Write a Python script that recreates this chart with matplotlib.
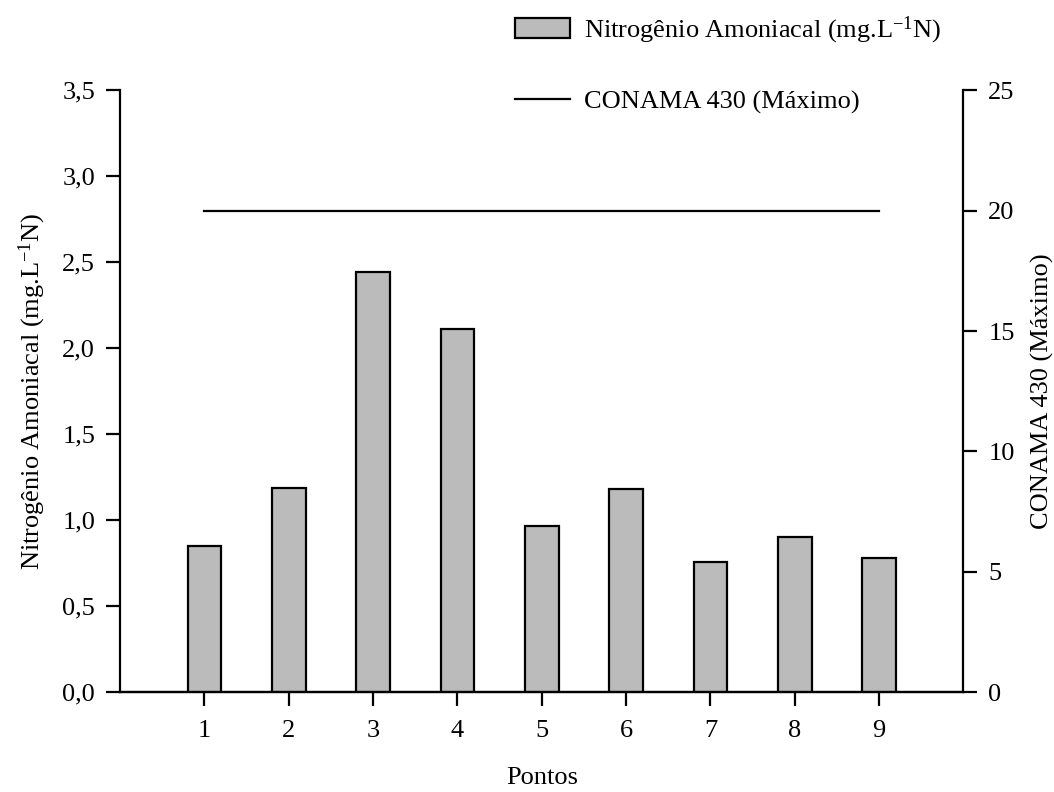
import matplotlib
matplotlib.use("Agg")
import matplotlib.pyplot as plt
from matplotlib.ticker import FuncFormatter

plt.rcParams['font.family'] = ['Liberation Serif', 'DejaVu Serif']
plt.rcParams['mathtext.fontset'] = 'custom'
plt.rcParams['mathtext.rm'] = 'Liberation Serif'
plt.rcParams['mathtext.it'] = 'Liberation Serif:italic'
plt.rcParams['mathtext.bf'] = 'Liberation Serif:bold'

# dados
pontos = [1, 2, 3, 4, 5, 6, 7, 8, 9]
nitrogenio = [0.853, 1.189, 2.446, 2.112, 0.966, 1.179, 0.760, 0.900, 0.780]
conama_x = [1, 9]
conama_max = [20, 20]

fig = plt.figure(figsize=(10.54, 7.92), dpi=100)
ax = fig.add_axes([0.114, 0.126, 0.800, 0.760])
ax2 = ax.twinx()

barras = ax.bar(pontos, nitrogenio, width=0.40, color='#bbbbbb',
                edgecolor='black', linewidth=1.6, zorder=3)
linha, = ax2.plot(conama_x, conama_max, color='black', linewidth=1.6)

ax.set_xlim(0, 10)
ax.set_ylim(0, 3.5)
ax2.set_ylim(0, 25)
ax.set_xticks(pontos)
ax.set_yticks([0, 0.5, 1.0, 1.5, 2.0, 2.5, 3.0, 3.5])
ax2.set_yticks([0, 5, 10, 15, 20, 25])
ax.yaxis.set_major_formatter(FuncFormatter(lambda v, p: f'{v:.1f}'.replace('.', ',')))

fs = 19
for a in (ax, ax2):
    a.spines['top'].set_visible(False)
    for s in a.spines.values():
        s.set_linewidth(1.6)
    a.tick_params(direction='out', length=10, width=1.6, labelsize=fs, pad=8)
ax2.spines['left'].set_visible(False)
ax.spines['right'].set_visible(False)
ax.tick_params(axis='x', pad=10)

ax.set_xlabel('Pontos', fontsize=fs, labelpad=18)
ax.set_ylabel('Nitrogênio Amoniacal (mg.L$^{-1}$N)', fontsize=fs, labelpad=10)
ax2.set_ylabel('CONAMA 430 (Máximo)', fontsize=fs, rotation=90, labelpad=12)

fig.legend([barras, linha],
           ['Nitrogênio Amoniacal (mg.L$^{-1}$N)', 'CONAMA 430 (Máximo)'],
           loc='upper left', bbox_to_anchor=(0.466, 1.012), frameon=False,
           fontsize=fs, handlelength=2.1, handleheight=0.8,
           labelspacing=1.65, handletextpad=0.5)

fig.savefig('out.png', dpi=100)
